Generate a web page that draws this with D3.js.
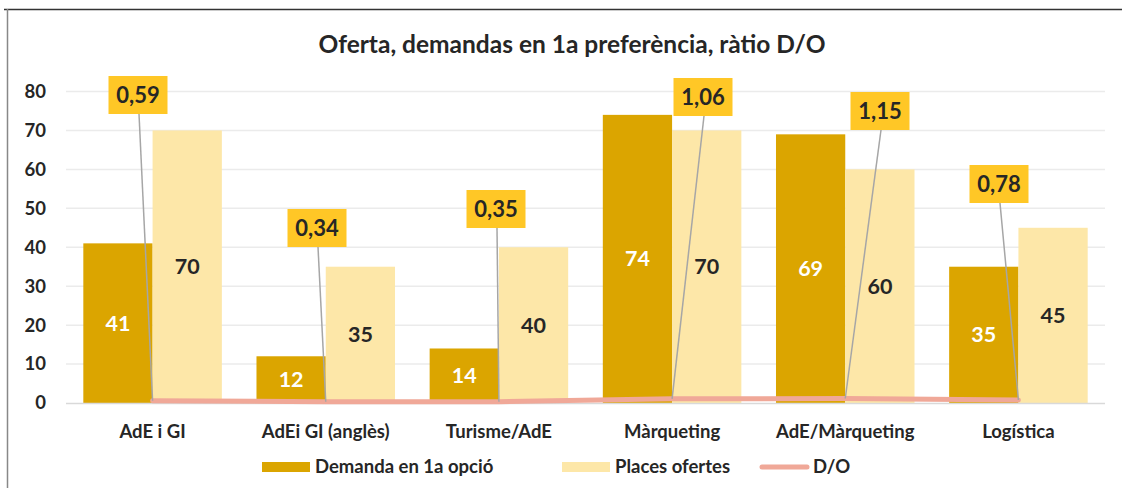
<!DOCTYPE html>
<html><head><meta charset="utf-8">
<script src="https://cdn.jsdelivr.net/npm/d3@7"></script>
<style>
html,body{margin:0;padding:0;background:#fff;}
svg{display:block;font-family:Lato, "Open Sans", sans-serif;}
</style></head>
<body>
<script>
const categories = ["AdE i GI","AdEi GI (anglès)","Turisme/AdE","Màrqueting","AdE/Màrqueting","Logística"];
const demanda = [41,12,14,74,69,35];
const places = [70,35,40,70,60,45];
const ratio = [0.59,0.34,0.35,1.06,1.15,0.78];
const ratioLabels = ["0,59","0,34","0,35","1,06","1,15","0,78"];
const yTicks = [0,10,20,30,40,50,60,70,80];
const seriesNames = ["Demanda en 1a opció","Places ofertes","D/O"];
// layout: label box centers (px)
const labelPos = [[138,95],[317,228],[496,209],[703,97],[880,111],[999,184]];

const W=1122,H=488;
const svg=d3.select("body").append("svg").attr("width",W).attr("height",H);
const C={dark:"#DBA500",light:"#FDE7A8",line:"#F0A898",box:"#FFC726",text:"#262626",grid:"#EBEBEB",leader:"#A6A6A6"};

// chart frame
svg.append("line").attr("x1",4).attr("x2",W).attr("y1",9.5).attr("y2",9.5).attr("stroke","#333").attr("stroke-width",1.5);
svg.append("line").attr("x1",7.5).attr("x2",7.5).attr("y1",9).attr("y2",H).attr("stroke","#888").attr("stroke-width",1.5);

const x0=66,x1=1105,yTop=91.5,yBot=403;
const x=d3.scaleBand().domain(categories).range([x0,x1]).paddingInner(0.2).paddingOuter(0.1);
const xs=d3.scaleBand().domain([0,1]).range([0,x.bandwidth()]);
const y=d3.scaleLinear().domain([0,80]).range([yBot,yTop]);

// gridlines
svg.append("g").selectAll("line").data(yTicks.slice(1)).join("line")
  .attr("x1",x0).attr("x2",x1).attr("y1",d=>y(d)).attr("y2",d=>y(d))
  .attr("stroke",C.grid).attr("stroke-width",1.5);

// y axis labels
const yAxis=d3.axisLeft(y).tickValues(yTicks).tickSize(0).tickPadding(0).tickFormat(d3.format("d"));
const ya=svg.append("g").attr("transform",`translate(46,0)`).call(yAxis);
ya.select(".domain").remove();
ya.selectAll("text").attr("font-size",18.5).attr("font-weight","bold").attr("fill",C.text).attr("font-family","Lato");

// bars
const g=svg.append("g");
categories.forEach((c,i)=>{
  const bx=x(c);
  g.append("rect").attr("x",bx+xs(0)).attr("width",xs.bandwidth()).attr("y",y(demanda[i])).attr("height",y(0)-y(demanda[i])).attr("fill",C.dark);
  g.append("rect").attr("x",bx+xs(1)).attr("width",xs.bandwidth()).attr("y",y(places[i])).attr("height",y(0)-y(places[i])).attr("fill",C.light);
  g.append("text").attr("x",bx+xs(0)+xs.bandwidth()/2).attr("y",(y(demanda[i])+y(0))/2).attr("dy","0.35em")
    .attr("text-anchor","middle").attr("font-size",21.5).attr("font-weight","bold").attr("fill","#fff").text(demanda[i]);
  g.append("text").attr("x",bx+xs(1)+xs.bandwidth()/2).attr("y",(y(places[i])+y(0))/2).attr("dy","0.35em")
    .attr("text-anchor","middle").attr("font-size",21.5).attr("font-weight","bold").attr("fill",C.text).text(places[i]);
});

// x axis line
svg.append("line").attr("x1",x0).attr("x2",x1).attr("y1",yBot+0.5).attr("y2",yBot+0.5).attr("stroke","#D9D9D9").attr("stroke-width",1.5);

// D/O line
const cx=c=>x(c)+x.bandwidth()/2;
const line=d3.line().x((d,i)=>cx(categories[i])).y(d=>y(d));
svg.append("path").datum(ratio).attr("d",line).attr("fill","none").attr("stroke",C.line).attr("stroke-width",5).attr("stroke-linecap","round");

// leader lines & labels
const bw=59,bh=38;
ratio.forEach((r,i)=>{
  const [lx,ly]=labelPos[i];
  svg.append("line").attr("x1",lx+1).attr("y1",ly+bh/2).attr("x2",cx(categories[i])).attr("y2",y(r))
    .attr("stroke",C.leader).attr("stroke-width",1.5);
  svg.append("rect").attr("x",lx-bw/2).attr("y",ly-bh/2).attr("width",bw).attr("height",bh).attr("fill",C.box);
  svg.append("text").attr("x",lx).attr("y",ly).attr("dy","0.36em").attr("text-anchor","middle")
    .attr("font-size",22).attr("font-weight","bold").attr("fill",C.text).text(ratioLabels[i]);
});

// x axis labels
const xAxis=d3.axisBottom(x).tickSize(0).tickPadding(0);
const xa=svg.append("g").attr("transform",`translate(0,${yBot+22})`).call(xAxis);
xa.select(".domain").remove();
xa.selectAll("text").attr("font-size",18.5).attr("font-weight","bold").attr("fill",C.text).attr("font-family","Lato");

// title
svg.append("text").attr("x",572).attr("y",44).attr("dy","0.35em").attr("text-anchor","middle")
  .attr("font-size",24.5).attr("font-weight","bold").attr("fill",C.text).text("Oferta, demandas en 1a preferència, ràtio D/O");

// legend
const ly=467;
const leg=[{x:262,t:seriesNames[0],type:"rect",c:C.dark},{x:562,t:seriesNames[1],type:"rect",c:C.light},{x:760,t:seriesNames[2],type:"line",c:C.line}];
leg.forEach(l=>{
  if(l.type==="rect") svg.append("rect").attr("x",l.x).attr("y",ly-5).attr("width",48).attr("height",10).attr("fill",l.c);
  else svg.append("line").attr("x1",l.x+2).attr("x2",l.x+47).attr("y1",ly).attr("y2",ly).attr("stroke",l.c).attr("stroke-width",5).attr("stroke-linecap","round");
  svg.append("text").attr("x",l.x+53).attr("y",ly).attr("dy","0.35em").attr("font-size",18.5).attr("font-weight","bold").attr("fill",C.text).text(l.t);
});
</script>
</body></html>
